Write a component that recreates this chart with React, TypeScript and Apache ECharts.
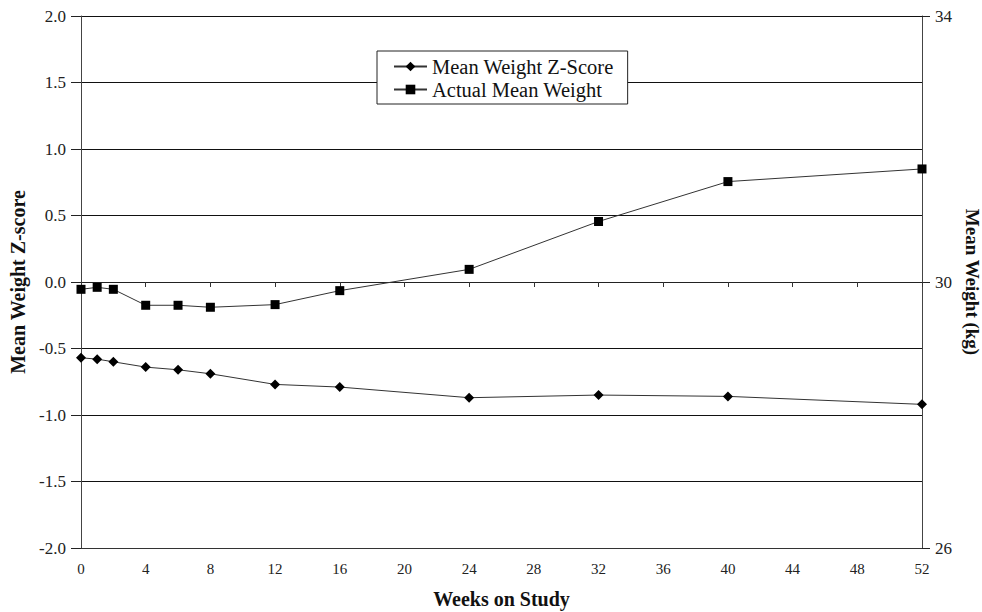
import React, { useEffect, useRef } from "react";
import * as echarts from "echarts";

const weeks = [0, 1, 2, 4, 6, 8, 12, 16, 24, 32, 40, 52];
const zScores = [-0.57, -0.58, -0.6, -0.64, -0.66, -0.69, -0.77, -0.79, -0.87, -0.85, -0.86, -0.92];
const meanWeights = [29.89, 29.92, 29.89, 29.65, 29.65, 29.62, 29.66, 29.87, 30.19, 30.91, 31.51, 31.7];
const seriesNames = ["Mean Weight Z-Score", "Actual Mean Weight"];
const axisNames = { x: "Weeks on Study", left: "Mean Weight Z-score", right: "Mean Weight (kg)" };

const FONT = "'Liberation Serif', 'Times New Roman', serif";

export default function App() {
  const ref = useRef<HTMLDivElement>(null);
  useEffect(() => {
    if (!ref.current) return;
    const chart = echarts.init(ref.current, undefined, { renderer: "svg" });
    const yLabelStyle = { color: "#222", fontSize: 17, fontFamily: FONT };
    const xLabelStyle = { color: "#222", fontSize: 15, fontFamily: FONT };
    const nameStyle = { fontSize: 20, fontWeight: "bold", color: "#111", fontFamily: FONT };
    chart.setOption({
      animation: false,
      backgroundColor: "#fff",
      textStyle: { fontFamily: FONT },
      grid: { left: 81, right: 60, top: 16, bottom: 64, containLabel: false, outerBoundsMode: "none" },
      legend: {
        orient: "vertical",
        left: 377,
        top: 51,
        padding: [5, 14, 4, 16],
        itemWidth: 33,
        itemHeight: 12,
        itemGap: 2,
        borderColor: "#222",
        borderWidth: 1,
        backgroundColor: "#fff",
        textStyle: { fontSize: 20.5, color: "#111", fontFamily: FONT },
        data: seriesNames,
      },
      xAxis: [
        {
          type: "value",
          min: 0,
          max: 52,
          interval: 4,
          position: "bottom",
          axisLine: { show: true, onZero: false, lineStyle: { color: "#333", width: 1 } },
          axisTick: { show: false },
          axisLabel: { ...xLabelStyle, margin: 13 },
          splitLine: { show: false },
          name: axisNames.x,
          nameLocation: "middle",
          nameGap: 41,
          nameTextStyle: nameStyle,
        },
        {
          type: "value",
          min: 0,
          max: 52,
          interval: 4,
          position: "bottom",
          axisLine: { show: true, onZero: true, onZeroAxisIndex: 0, lineStyle: { color: "#222", width: 1 } },
          axisTick: { show: true, length: 5, lineStyle: { color: "#333" } },
          axisLabel: { show: false },
          splitLine: { show: false },
        },
      ],
      yAxis: [
        {
          type: "value",
          min: -2,
          max: 2,
          interval: 0.5,
          position: "left",
          axisLine: { show: true, onZero: false, lineStyle: { color: "#444", width: 1 } },
          axisTick: { show: true, length: 10, lineStyle: { color: "#222" } },
          axisLabel: { ...yLabelStyle, margin: 15, formatter: (v: number) => v.toFixed(1) },
          splitLine: { show: true, lineStyle: { color: "#111", width: 1 } },
          name: axisNames.left,
          nameLocation: "middle",
          nameGap: 53,
          nameTextStyle: nameStyle,
        },
        {
          type: "value",
          min: 26,
          max: 34,
          interval: 4,
          position: "right",
          axisLine: { show: true, onZero: false, lineStyle: { color: "#444", width: 1 } },
          axisTick: { show: true, length: 8, lineStyle: { color: "#222" } },
          axisLabel: { ...yLabelStyle, margin: 13 },
          splitLine: { show: false },
          name: axisNames.right,
          nameLocation: "middle",
          nameRotate: -90,
          nameGap: 36,
          nameTextStyle: { ...nameStyle, fontSize: 19 },
        },
      ],
      series: [
        {
          name: seriesNames[0],
          type: "line",
          xAxisIndex: 0,
          yAxisIndex: 0,
          data: weeks.map((w, i) => [w, zScores[i]]),
          symbol: "diamond",
          symbolSize: 10,
          itemStyle: { color: "#000" },
          lineStyle: { color: "#333", width: 1 },
        },
        {
          name: seriesNames[1],
          type: "line",
          xAxisIndex: 0,
          yAxisIndex: 1,
          data: weeks.map((w, i) => [w, meanWeights[i]]),
          symbol: "rect",
          symbolSize: 9,
          itemStyle: { color: "#000" },
          lineStyle: { color: "#333", width: 1 },
        },
      ],
    });
    return () => chart.dispose();
  }, []);
  return (
    <div
      ref={ref}
      style={{ position: "absolute", left: 0, top: 0, width: 982, height: 612, background: "#fff" }}
    />
  );
}
